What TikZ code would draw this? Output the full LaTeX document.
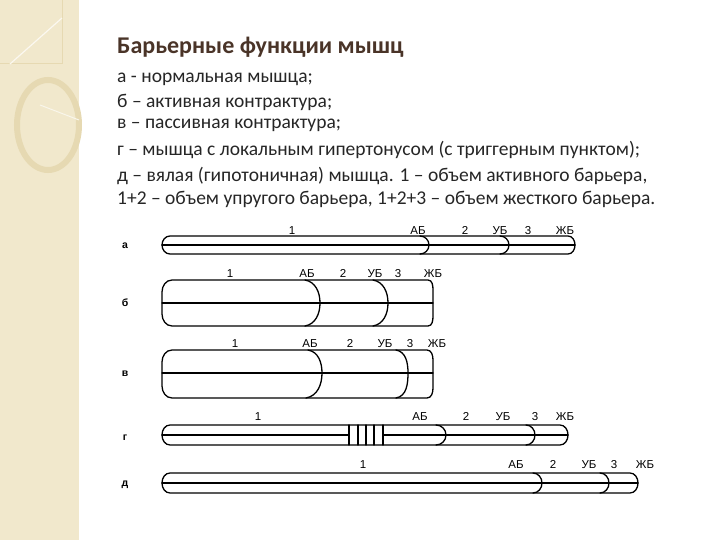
\documentclass[tikz,border=0pt]{standalone}
\usepackage{fontspec}
\setmainfont{Carlito}
\newfontfamily\arialf{Liberation Sans}
\definecolor{beige}{HTML}{F1E8CC}
\definecolor{beigeline}{HTML}{E6D9B2}
\definecolor{titlec}{HTML}{4A3428}
\definecolor{bodyc}{HTML}{262626}
\begin{document}
\begin{tikzpicture}[x=1pt,y=-1pt,
  txt/.style={anchor=west,inner sep=0pt,text=bodyc,font=\fontsize{19.5}{21}\selectfont},
  lbl/.style={inner sep=0pt,text height=8.5pt,text depth=0pt,font=\arialf\fontsize{11.5}{12}\selectfont},
  rowl/.style={inner sep=0pt,text height=6pt,text depth=0pt,font=\arialf\bfseries\fontsize{10.5}{11}\selectfont},
  bar/.style={line width=1.3pt,line cap=round,line join=round}]
\useasboundingbox (0,0) rectangle (720,540);
\fill[white] (0,0) rectangle (720,540);
% decorative strip
\fill[beige] (0,0) rectangle (79,540);
\draw[beigeline,line width=1pt] (-2,-2) -- (62,-2) -- (62,64) -- (-2,64);
\draw[white!70!beige,line width=1.2pt] (10,64) -- (62,18);
\draw[beigeline,line width=6pt] (79,125) arc (0:-360:31 and 45);
\draw[white!60!beige,line width=1pt] (79,120) -- (40,105);
% texts
\node[anchor=west,inner sep=0pt,text=titlec,font=\bfseries\fontsize{24}{26}\selectfont] (t) at (117,47) {Барьерные функции мышц};
\node[txt] (l1) at (117,79) {а - нормальная  мышца;};
\node[txt] (l2) at (117,102) {б – активная  контрактура;};
\node[txt] (l3) at (117,125) {в – пассивная  контрактура;};
\node[txt] (l4) at (117,150) {г – мышца с локальным  гипертонусом (с триггерным пунктом);};
\node[txt] (l5) at (117,176) {д – вялая (гипотоничная) мышца. 1 – объем  активного  барьера,};
\node[txt] (l6) at (117,199) {1+2 – объем упругого барьера, 1+2+3 – объем жесткого барьера.};
% --- a ---
\begin{scope}[bar]
\draw (170,236) -- (568,236) to[out=0,in=90] (575,245) to[out=-90,in=0] (568,254) -- (170,254) to[out=180,in=-90] (162,245) to[out=90,in=180] (170,236);
\draw (162,245) -- (575,245);
\draw (420,236) to[out=0,in=90] (429,245) to[out=-90,in=0] (420,254);
\draw (500,236) to[out=0,in=90] (509,245) to[out=-90,in=0] (500,254);
\end{scope}
\node[rowl] (ra) at (125,245) {а};
\node[lbl] (a1) at (292,230) {1};
\node[lbl] (a2) at (418,230) {АБ};
\node[lbl] (a3) at (465,230) {2};
\node[lbl] (a4) at (500,230) {УБ};
\node[lbl] (a5) at (528,230) {3};
\node[lbl] (a6) at (565,230) {ЖБ};
% --- b ---
\begin{scope}[bar]
\draw (172,280) -- (428,280) to[out=0,in=90] (433,290) -- (433,316) to[out=-90,in=0] (428,326) -- (172,326) to[out=180,in=-90] (162,314) -- (162,292) to[out=90,in=180] (172,280);
\draw (162,303) -- (433,303);
\draw (305,280) to[out=-10,in=90] (320,303) to[out=-90,in=10] (305,326);
\draw (373,280) to[out=-10,in=90] (388,303) to[out=-90,in=10] (373,326);
\end{scope}
\node[rowl] (rb) at (125,303) {б};
\node[lbl] (b1) at (230,273) {1};
\node[lbl] (b2) at (307,273) {АБ};
\node[lbl] (b3) at (343,273) {2};
\node[lbl] (b4) at (375,273) {УБ};
\node[lbl] (b5) at (398,273) {3};
\node[lbl] (b6) at (433,273) {ЖБ};
% --- v ---
\begin{scope}[bar]
\draw (172,350) -- (427,350) to[out=0,in=90] (433,360) -- (433,388) to[out=-90,in=0] (427,398) -- (172,398) to[out=180,in=-90] (162,386) -- (162,362) to[out=90,in=180] (172,350);
\draw (162,373) -- (433,373);
\draw (308,350) to[out=-10,in=90] (322,373) to[out=-90,in=10] (306,398);
\draw (396,350) to[out=-10,in=90] (408,373) to[out=-90,in=10] (396,398);
\end{scope}
\node[rowl] (rv) at (125,373) {в};
\node[lbl] (v1) at (235,343) {1};
\node[lbl] (v2) at (310,343) {АБ};
\node[lbl] (v3) at (350,343) {2};
\node[lbl] (v4) at (385,343) {УБ};
\node[lbl] (v5) at (410,343) {3};
\node[lbl] (v6) at (437,343) {ЖБ};
% --- g ---
\begin{scope}[bar]
\draw (170,425) -- (560,425) to[out=0,in=90] (568,435) to[out=-90,in=0] (560,445) -- (170,445) to[out=180,in=-90] (162,435) to[out=90,in=180] (170,425);
\draw (162,435) -- (349,435);
\draw (383,435) -- (568,435);
\draw (436,425) to[out=0,in=90] (446,435) to[out=-90,in=0] (436,445);
\draw (526,425) to[out=0,in=90] (535,435) to[out=-90,in=0] (526,445);
\foreach \xx in {349,358,366,374,383} \draw (\xx,425) -- (\xx,445);
\end{scope}
\node[rowl] (rg) at (125,437) {г};
\node[lbl] (g1) at (258,416) {1};
\node[lbl] (g2) at (420,416) {АБ};
\node[lbl] (g3) at (466,416) {2};
\node[lbl] (g4) at (503,416) {УБ};
\node[lbl] (g5) at (535,416) {3};
\node[lbl] (g6) at (565,416) {ЖБ};
% --- d ---
\begin{scope}[bar]
\draw (170,473) -- (630,473) to[out=0,in=90] (638,483) to[out=-90,in=0] (630,493) -- (170,493) to[out=180,in=-90] (162,483) to[out=90,in=180] (170,473);
\draw (162,483) -- (638,483);
\draw (533,473) to[out=0,in=90] (542,483) to[out=-90,in=0] (533,493);
\draw (600,473) to[out=0,in=90] (609,483) to[out=-90,in=0] (600,493);
\end{scope}
\node[rowl] (rd) at (125,483) {д};
\node[lbl] (d1) at (363,464) {1};
\node[lbl] (d2) at (516,464) {АБ};
\node[lbl] (d3) at (553,464) {2};
\node[lbl] (d4) at (589,464) {УБ};
\node[lbl] (d5) at (614,464) {3};
\node[lbl] (d6) at (645,464) {ЖБ};
\end{tikzpicture}
\end{document}
